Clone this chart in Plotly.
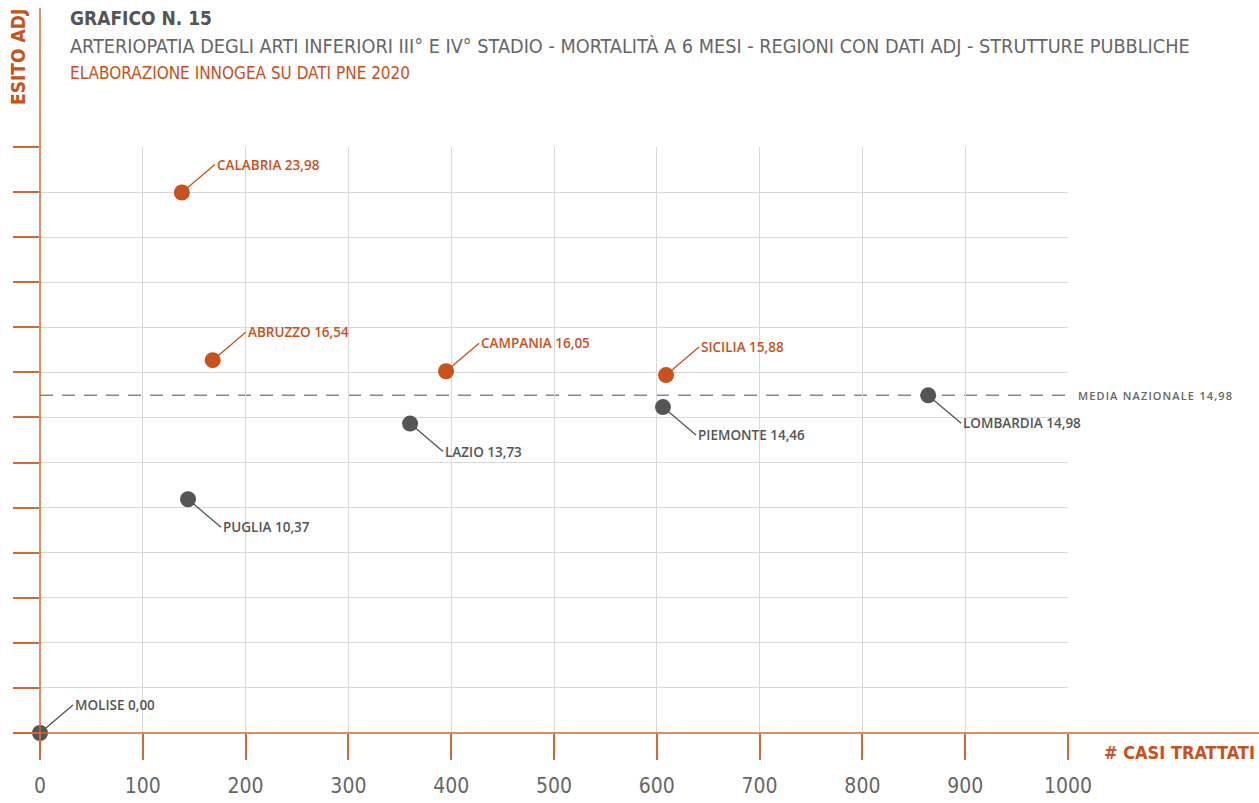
import plotly.graph_objects as go

# ---- data ----
regioni = ["CALABRIA", "ABRUZZO", "CAMPANIA", "SICILIA", "LOMBARDIA",
           "PIEMONTE", "LAZIO", "PUGLIA", "MOLISE"]
casi_trattati = [138, 168, 395, 609, 864, 606, 360, 144, 0]
esito_adj = [23.98, 16.54, 16.05, 15.88, 14.98, 14.46, 13.73, 10.37, 0.00]
label_side = ["up", "up", "up", "up", "down", "down", "down", "down", "up"]
media_nazionale = 14.98
x_ticks = [0, 100, 200, 300, 400, 500, 600, 700, 800, 900, 1000]
y_ticks = [0, 2, 4, 6, 8, 10, 12, 14, 16, 18, 20, 22, 24, 26]

ORANGE = "#c9511d"
AXIS_OR = "#d06a35"
GREY = "#555555"
FONT = "Liberation Sans Narrow, DejaVu Sans Condensed, Arial Narrow, sans-serif"
LFONT = "Open Sans, sans-serif"

colors = [ORANGE if v > media_nazionale else GREY for v in esito_adj]

fig = go.Figure()
fig.add_trace(go.Scatter(
    x=casi_trattati, y=esito_adj, mode="markers",
    marker=dict(size=16, color=colors, line=dict(width=0)),
    cliponaxis=False, hoverinfo="skip", showlegend=False))

annotations = []
for name, xv, yv, side, c in zip(regioni, casi_trattati, esito_adj, label_side, colors):
    txt = f"{name} {yv:.2f}".replace(".", ",")
    annotations.append(dict(
        x=xv, y=yv, xref="x", yref="y", text=txt,
        showarrow=True, arrowhead=0, arrowwidth=1.3, arrowcolor=c,
        standoff=7, ax=33, ay=-28 if side == "up" else 28,
        xanchor="left", yanchor="middle",
        font=dict(family=LFONT, size=13.5, color=c, weight=600)))

# media label
annotations.append(dict(
    x=(1076 - 40) / 1028, xref="paper", y=media_nazionale, yref="y",
    text="M E D I A   N A Z I O N A L E   1 4 , 9 8".replace("   ", "\u2002").replace(" ", "\u200a"),
    showarrow=False, xanchor="left", yanchor="middle",
    font=dict(family=LFONT, size=11, color="#666666", weight=600)))

# titles
annotations += [
    dict(x=(68 - 40) / 1028, y=(733 - 18) / 586, xref="paper", yref="paper",
         text="<b>GRAFICO N. 15</b>", showarrow=False, xanchor="left", yanchor="middle",
         font=dict(family=FONT, size=19, color="#555555")),
    dict(x=(68 - 40) / 1028, y=(733 - 47) / 586, xref="paper", yref="paper",
         text="ARTERIOPATIA DEGLI ARTI INFERIORI III° E IV° STADIO - MORTALITÀ A 6 MESI - REGIONI CON DATI ADJ - STRUTTURE PUBBLICHE",
         showarrow=False, xanchor="left", yanchor="middle",
         font=dict(family=FONT, size=19.7, color="#666666")),
    dict(x=(68 - 40) / 1028, y=(733 - 73) / 586, xref="paper", yref="paper",
         text="ELABORAZIONE INNOGEA SU DATI PNE 2020",
         showarrow=False, xanchor="left", yanchor="middle",
         font=dict(family=FONT, size=17, color=ORANGE)),
    dict(x=(18 - 40) / 1028, y=(733 - 57) / 586, xref="paper", yref="paper",
         text="<b>ESITO ADJ</b>", textangle=-90, showarrow=False,
         xanchor="center", yanchor="middle",
         font=dict(family=FONT, size=19, color=ORANGE)),
    dict(x=(1257 - 40) / 1028, y=(733 - 752) / 586, xref="paper", yref="paper",
         text="<b># CASI TRATTATI</b>", showarrow=False,
         xanchor="right", yanchor="middle",
         font=dict(family=FONT, size=18, color=ORANGE)),
]

shapes = [
    dict(type="line", xref="x", yref="y", x0=0, x1=1000,
         y0=media_nazionale, y1=media_nazionale, layer="below",
         line=dict(color="#888888", width=1.5, dash="13px,9px")),
    dict(type="line", xref="paper", yref="paper",
         x0=(14 - 40) / 1028, x1=(1259 - 40) / 1028, y0=0, y1=0,
         line=dict(color=AXIS_OR, width=1.5)),
    dict(type="line", xref="paper", yref="paper",
         x0=0, x1=0, y0=(733 - 760) / 586, y1=(733 - 8) / 586,
         line=dict(color=AXIS_OR, width=1.5)),
]

fig.update_layout(
    width=1259, height=803, autosize=False,
    margin=dict(l=40, r=191, t=147, b=70, pad=0),
    paper_bgcolor="white", plot_bgcolor="white",
    font=dict(family=FONT),
    annotations=annotations, shapes=shapes,
    xaxis=dict(range=[0, 1000], tickvals=x_ticks, ticktext=[str(v) for v in x_ticks],
               showgrid=True, gridcolor="#d9d9d9", gridwidth=1.2,
               zeroline=False, showline=False, automargin=False,
               ticks="outside", ticklen=26, tickwidth=1.5, tickcolor=AXIS_OR,
               ticklabelstandoff=8,
               tickfont=dict(family=FONT, size=21, color="#666666")),
    yaxis=dict(range=[0, 26], tickvals=y_ticks,
               showgrid=True, gridcolor="#d9d9d9", gridwidth=1.2,
               zeroline=False, showline=False, showticklabels=False,
               automargin=False,
               ticks="outside", ticklen=26, tickwidth=1.5, tickcolor=AXIS_OR),
)

fig.write_html("out.html",
               config={"displayModeBar": False},
               post_script="document.body.style.margin='0';document.body.style.overflow='hidden';")
